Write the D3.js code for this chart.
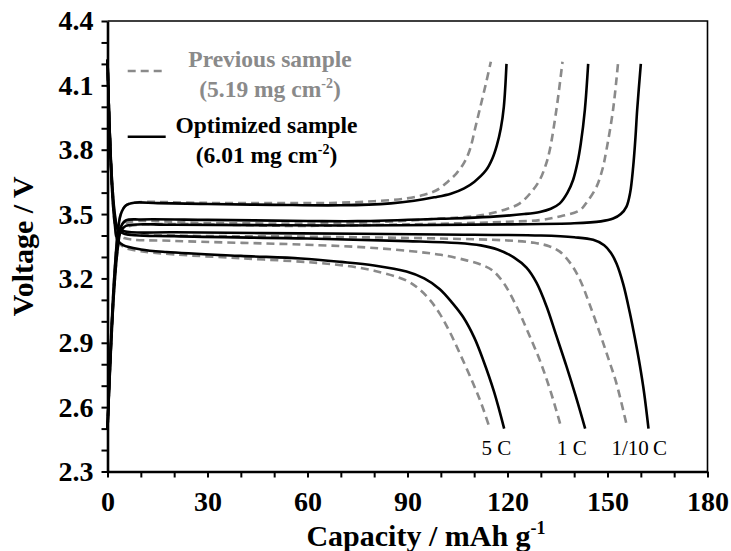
<!DOCTYPE html>
<html>
<head>
<meta charset="utf-8">
<script src="https://cdn.jsdelivr.net/npm/d3@7/dist/d3.min.js"></script>
<style>
  html, body { margin: 0; padding: 0; background: #fff; }
  svg { display: block; }
  text { font-family: "Liberation Serif", "Times New Roman", serif; }
</style>
</head>
<body>
<svg id="chart" width="731" height="551"></svg>
<script>
// Axis ticks
const xTicks = d3.range(0, 181, 10);
const xTickLabels = [0, 30, 60, 90, 120, 150, 180];
const yTicks = d3.range(23, 45).map(d => d / 10);
const yTickLabels = [2.3, 2.6, 2.9, 3.2, 3.5, 3.8, 4.1, 4.4];

// Rate labels
const rateLabels = [
  { text: "5 C", c: 116.7, v: 2.375 },
  { text: "1 C", c: 139.3, v: 2.375 },
  { text: "1/10\u2009C", c: 159.5, v: 2.375 }
];

// Optimized sample (6.01 mg cm-2): charge curves [capacity, voltage]
const optCharge5C = [[0,2.5],[1,2.9],[2,3.2],[3,3.4],[4,3.5],[5.5,3.54],[8,3.553],[15,3.551],[30,3.547],[50,3.543],[70,3.541],[85,3.55],[92,3.562],[98,3.578],[103,3.595],[107,3.62],[110,3.65],[113.6,3.705],[115.5,3.76],[116.8,3.82],[118,3.9],[118.9,4.0],[119.7,4.2]];
const optCharge1C = [[0,2.5],[1,2.88],[2,3.17],[3,3.36],[4,3.44],[5.5,3.47],[10,3.475],[30,3.473],[60,3.468],[75,3.467],[100,3.478],[114.7,3.487],[125,3.5],[129.7,3.51],[133,3.525],[135.7,3.55],[138,3.6],[139.7,3.66],[141,3.74],[142,3.83],[143.2,3.985],[144.2,4.2]];
const optCharge01C = [[0,2.5],[1,2.86],[2,3.15],[3,3.33],[4,3.42],[5.5,3.445],[20,3.45],[70,3.447],[120,3.452],[140,3.457],[148,3.466],[151.7,3.479],[154,3.5],[155.7,3.535],[156.8,3.6],[157.7,3.72],[158.4,3.86],[158.9,3.985],[160,4.2]];

// Optimized sample: discharge curves
const optDischarge5C = [[0,4.22],[0.4,4.0],[0.9,3.78],[1.5,3.58],[2.2,3.45],[3,3.38],[4.7,3.355],[10,3.335],[17.7,3.323],[40,3.305],[58,3.293],[70,3.277],[80,3.26],[89.7,3.232],[95,3.2],[99.7,3.15],[103.5,3.085],[106.7,3.02],[110,2.925],[112.7,2.82],[116,2.67],[119,2.5]];
const optDischarge1C = [[0,4.22],[0.4,4.0],[0.9,3.78],[1.5,3.6],[2.2,3.48],[3,3.43],[5,3.408],[20,3.397],[60,3.386],[90,3.374],[105,3.365],[112,3.354],[117,3.335],[122,3.297],[125.7,3.25],[128.7,3.18],[131.7,3.07],[134.5,2.94],[137.7,2.79],[140.5,2.65],[143.3,2.5]];
const optDischarge01C = [[0,4.22],[0.4,4.0],[0.9,3.79],[1.5,3.62],[2.2,3.5],[3,3.44],[5,3.42],[20,3.415],[58,3.41],[100,3.405],[130,3.4],[140,3.392],[145.7,3.38],[149,3.355],[151,3.32],[152.7,3.27],[154.7,3.175],[156.7,3.04],[158.3,2.915],[159.7,2.795],[161,2.665],[162.3,2.5]];

// Previous sample (5.19 mg cm-2): charge curves
const prevCharge5C = [[0,2.5],[1,2.9],[2,3.2],[3,3.41],[4,3.5],[5.5,3.54],[8,3.553],[30,3.552],[60,3.551],[70,3.553],[80,3.56],[89.7,3.573],[95,3.59],[98.7,3.611],[102,3.65],[104.7,3.69],[107,3.74],[108.7,3.8],[110.3,3.9],[111.7,3.99],[113.4,4.1],[115,4.21]];
const prevCharge1C = [[0,2.5],[1,2.88],[2,3.17],[3,3.36],[4,3.43],[5.5,3.458],[30,3.458],[60,3.456],[80,3.462],[99.7,3.479],[110,3.49],[114.7,3.502],[120,3.525],[123.7,3.55],[127,3.6],[129.7,3.66],[131.5,3.73],[132.7,3.8],[134.7,3.99],[136.5,4.21]];
const prevCharge01C = [[0,2.5],[1,2.86],[2,3.15],[3,3.33],[4,3.42],[5.5,3.44],[60,3.445],[100,3.455],[120,3.464],[129.7,3.472],[136,3.49],[141.7,3.518],[144,3.56],[146.7,3.627],[148.5,3.71],[149.7,3.8],[151.7,3.99],[153.2,4.21]];

// Previous sample: discharge curves
const prevDischarge5C = [[0,4.22],[0.4,4.0],[0.9,3.78],[1.5,3.58],[2.2,3.45],[3,3.375],[5,3.345],[10,3.327],[20,3.312],[40,3.294],[60,3.276],[70,3.262],[80,3.236],[89.7,3.19],[93.5,3.15],[96.7,3.1],[99.7,3.035],[102.7,2.95],[106,2.84],[109.7,2.71],[112.3,2.61],[114.7,2.5]];
const prevDischarge1C = [[0,4.22],[0.4,4.0],[0.9,3.78],[1.5,3.6],[2.2,3.47],[3,3.41],[5,3.388],[20,3.375],[58,3.358],[80,3.342],[100,3.31],[108,3.283],[112.5,3.262],[115.7,3.235],[119,3.175],[122.7,3.07],[126,2.955],[129.7,2.818],[133,2.67],[136.2,2.5]];
const prevDischarge01C = [[0,4.22],[0.4,4.0],[0.9,3.79],[1.5,3.62],[2.2,3.49],[3,3.43],[5,3.41],[20,3.4],[58,3.395],[100,3.386],[120,3.377],[128,3.366],[132.5,3.35],[135.7,3.325],[139,3.268],[141.7,3.195],[144.5,3.085],[147.7,2.945],[150.3,2.825],[152.7,2.71],[155.7,2.52]];

const prevCurves = [prevCharge5C, prevCharge1C, prevCharge01C, prevDischarge5C, prevDischarge1C, prevDischarge01C];
const optCurves = [optCharge5C, optCharge1C, optCharge01C, optDischarge5C, optDischarge1C, optDischarge01C];

const svg = d3.select("#chart");
const margin = { left: 107.5, top: 21, right: 23.5, bottom: 79.5 };
const W = 731 - margin.left - margin.right;
const H = 551 - margin.top - margin.bottom;

const x = d3.scaleLinear().domain([0, 180]).range([0, W]);
const y = d3.scaleLinear().domain([2.3, 4.4]).range([H, 0]);

const g = svg.append("g").attr("transform", `translate(${margin.left},${margin.top})`);

const line = d3.line()
  .x(d => x(d[0]))
  .y(d => y(d[1]))
  .curve(d3.curveCatmullRom.alpha(0.5));

const GREY = "#8a8a8a";

// Previous sample: grey dashed
g.append("g").selectAll("path").data(prevCurves).join("path")
  .attr("d", line)
  .attr("fill", "none")
  .attr("stroke", GREY)
  .attr("stroke-width", 2.6)
  .attr("stroke-dasharray", "8,5");

// Optimized sample: solid black
g.append("g").selectAll("path").data(optCurves).join("path")
  .attr("d", line)
  .attr("fill", "none")
  .attr("stroke", "#000")
  .attr("stroke-width", 2.6);

// Frame (top and right edges)
g.append("path")
  .attr("d", `M0,0H${W}V${H}`)
  .attr("fill", "none")
  .attr("stroke", "#000")
  .attr("stroke-width", 1.6);

// X axis
const fmtX = d => xTickLabels.includes(d) ? String(d) : "";
const xAxis = g.append("g")
  .attr("transform", `translate(0,${H})`)
  .call(d3.axisBottom(x).tickValues(xTicks).tickFormat(fmtX).tickSize(6).tickSizeOuter(0).tickPadding(14));
xAxis.select(".domain").attr("stroke-width", 2.4);
xAxis.selectAll(".tick line").attr("stroke-width", 2);
xAxis.selectAll("text")
  .attr("font-family", "'Liberation Serif', serif")
  .attr("font-weight", "bold")
  .attr("font-size", 28)
  .attr("fill", "#000");

// Y axis
const fmtY = d => yTickLabels.some(v => Math.abs(v - d) < 1e-6) ? d.toFixed(1) : "";
const yAxis = g.append("g")
  .call(d3.axisLeft(y).tickValues(yTicks).tickFormat(fmtY).tickSize(6).tickSizeOuter(0).tickPadding(8));
yAxis.select(".domain").attr("stroke-width", 2.6);
yAxis.selectAll(".tick line").attr("stroke-width", 2);
yAxis.selectAll("text")
  .attr("font-family", "'Liberation Serif', serif")
  .attr("font-weight", "bold")
  .attr("font-size", 28)
  .attr("fill", "#000");

// Axis titles
const xTitle = svg.append("text")
  .attr("x", 426)
  .attr("y", 546)
  .attr("text-anchor", "middle")
  .attr("font-weight", "bold")
  .attr("font-size", 30);
xTitle.append("tspan").text("Capacity / mAh g");
xTitle.append("tspan").attr("font-size", 18).attr("dy", -12).text("-1");

svg.append("text")
  .attr("transform", `translate(33,${margin.top + H / 2}) rotate(-90)`)
  .attr("text-anchor", "middle")
  .attr("font-weight", "bold")
  .attr("font-size", 30)
  .text("Voltage / V");

// Rate labels
g.append("g").selectAll("text").data(rateLabels).join("text")
  .attr("x", d => x(d.c))
  .attr("y", d => y(d.v))
  .attr("text-anchor", "middle")
  .attr("font-size", 21)
  .text(d => d.text);

// Legend
const legend = svg.append("g");
legend.append("line")
  .attr("x1", 127.7).attr("x2", 162.3).attr("y1", 71).attr("y2", 71)
  .attr("stroke", GREY).attr("stroke-width", 2.6).attr("stroke-dasharray", "8,5");
legend.append("line")
  .attr("x1", 127.7).attr("x2", 165.7).attr("y1", 136.7).attr("y2", 136.7)
  .attr("stroke", "#000").attr("stroke-width", 2.6);

function legendLabel(cx, y0, title, load, color) {
  legend.append("text")
    .attr("x", cx).attr("y", y0)
    .attr("text-anchor", "middle")
    .attr("font-weight", "bold").attr("font-size", 23.5).attr("fill", color)
    .text(title);
  const t = legend.append("text")
    .attr("x", cx).attr("y", y0 + 30)
    .attr("text-anchor", "middle")
    .attr("font-weight", "bold").attr("font-size", 23.5).attr("fill", color);
  t.append("tspan").text(`(${load} mg cm`);
  t.append("tspan").attr("font-size", 14).attr("dy", -9).text("-2");
  t.append("tspan").attr("dy", 9).text(")");
}
legendLabel(270, 66.5, "Previous sample", "5.19", GREY);
legendLabel(266.5, 133, "Optimized sample", "6.01", "#000");
</script>
</body>
</html>
